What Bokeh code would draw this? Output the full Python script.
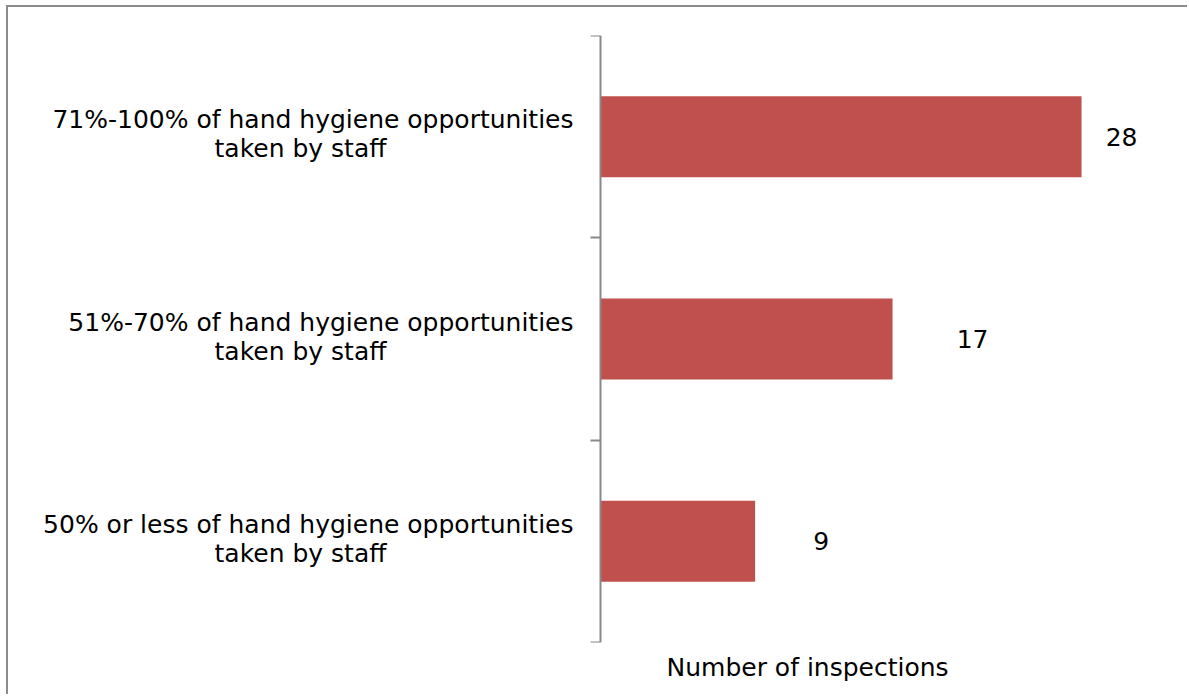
from bokeh.plotting import figure
from bokeh.models import Range1d, FixedTicker, LinearAxis, Title, ColumnDataSource
from bokeh.embed import file_html
from bokeh.resources import INLINE
from bokeh.core.properties import value

# Data (listed top to bottom as in the chart)
categories = [
    "71%-100% of hand hygiene opportunities\ntaken by staff",
    "51%-70% of hand hygiene opportunities\ntaken by staff",
    "50% or less of hand hygiene opportunities\ntaken by staff",
]
inspections = [28, 17, 9]
label_dx = [40, 80, 66]  # pixel offsets of value labels (style)
axis_title = "Number of inspections"

FONT = "DejaVu Sans"
FS = "25px"
GRAY = "#888888"

n = len(categories)
ypos = [n - 1 - i + 0.5 for i in range(n)]
line1 = [c.split("\n")[0] for c in categories]
line2 = [c.split("\n")[1] for c in categories]

PX = 17.18          # pixels per inspection
FRAME_W = 1181
AXIS_PX = 592       # position of the value axis inside the frame
x0 = -AXIS_PX / PX
x1 = (FRAME_W - AXIS_PX) / PX

p = figure(
    width=1181, height=689,
    output_backend="svg", toolbar_location=None,
    x_range=Range1d(x0, x1), y_range=Range1d(0, n),
    x_axis_location=None, y_axis_location=None,
    min_border_left=0, min_border_right=0,
    min_border_top=28, min_border_bottom=54,
)
p.styles = {
    "margin-top": "5px", "margin-left": "6px",
    "border-top": "2px solid #8c8c8c", "border-left": "2px solid #8c8c8c",
}
p.outline_line_color = None
p.background_fill_color = "white"
p.border_fill_color = "white"
p.grid.visible = False

src = ColumnDataSource(dict(
    y=ypos, v=inspections, lab=[str(v) for v in inspections], dx=label_dx,
    l1=line1, l2=line2, zero=[0] * n,
))
p.hbar(y="y", right="v", left=0, height=0.4, source=src,
       fill_color="#C0504D", line_color=None)
p.text(x="v", y="y", text="lab", x_offset="dx", source=src,
       text_align="center", text_baseline="middle",
       text_font=value(FONT), text_font_size=FS, text_color="black")

# category labels: first line right-aligned next to the axis, second centred under it
p.text(x="zero", y="y", text="l1", x_offset=-27, y_offset=-17, source=src,
       text_align="right", text_baseline="alphabetic",
       text_font=value(FONT), text_font_size=FS, text_color="black")
p.text(x="zero", y="y", text="l2", x_offset=-300, y_offset=12, source=src,
       text_align="center", text_baseline="alphabetic",
       text_font=value(FONT), text_font_size=FS, text_color="black")

ya = LinearAxis(fixed_location=0)
ya.ticker = FixedTicker(ticks=ypos, minor_ticks=list(range(n + 1)))
ya.major_label_text_font_size = "0px"
ya.major_label_text_color = None
ya.axis_line_color = GRAY
ya.axis_line_width = 2
ya.major_tick_line_color = None
ya.minor_tick_line_color = GRAY
ya.minor_tick_line_width = 2
ya.minor_tick_out = 10
ya.minor_tick_in = 0
p.add_layout(ya, "left")

p.add_layout(Title(text=axis_title, align="left", offset=658, standoff=21,
                   vertical_align="top",
                   text_font=FONT, text_font_size=FS, text_font_style="normal",
                   text_color="black"), "below")

open("out.html", "w").write(file_html(p, INLINE))
